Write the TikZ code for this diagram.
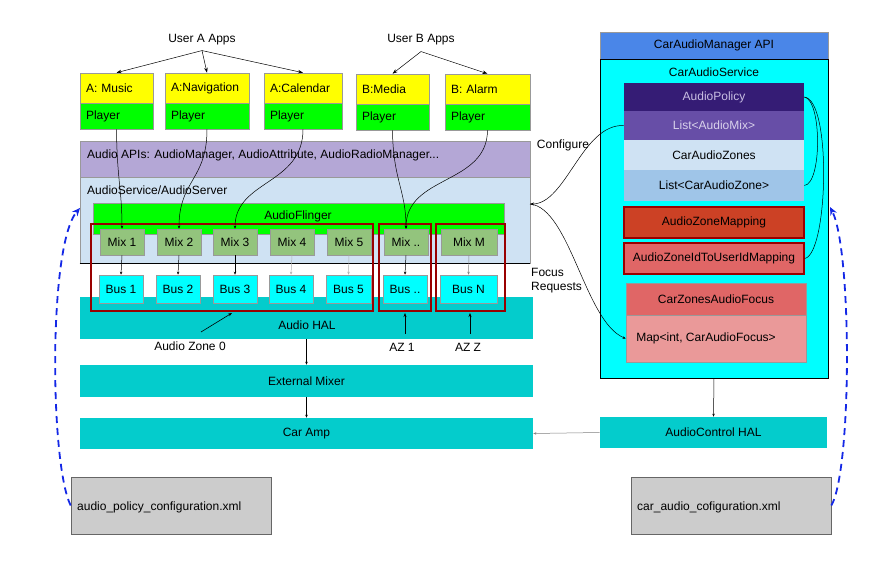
\documentclass[tikz,border=0pt]{standalone}
\usepackage{fontspec}
\setmainfont{Liberation Sans}
\usetikzlibrary{arrows.meta}
\definecolor{boxgray}{HTML}{999999}
\definecolor{ylw}{HTML}{FFFF00}
\definecolor{grn}{HTML}{00FF00}
\definecolor{apipurple}{HTML}{B4A7D6}
\definecolor{svcblue}{HTML}{CFE2F3}
\definecolor{mixgreen}{HTML}{93C47D}
\definecolor{buscyan}{HTML}{00FFFF}
\definecolor{teal}{HTML}{04CCCC}
\definecolor{zonered}{HTML}{990000}
\definecolor{apiblue}{HTML}{4A86E8}
\definecolor{dpurple}{HTML}{351C75}
\definecolor{mpurple}{HTML}{674EA7}
\definecolor{lpurple}{HTML}{C9BFE3}
\definecolor{lblue}{HTML}{9FC5E8}
\definecolor{brick}{HTML}{CC4125}
\definecolor{salmon}{HTML}{E06666}
\definecolor{pink}{HTML}{EA9999}
\definecolor{xmlgray}{HTML}{CCCCCC}
\definecolor{dashblue}{RGB}{20,40,230}
\begin{document}
\begin{tikzpicture}[x=1pt,y=-1pt,
  fnt/.style={font=\fontsize{12}{14}\selectfont},
  txt/.style={fnt, inner sep=0pt},
  box/.style={fnt, draw=boxgray, line width=0.6pt, inner sep=0pt},
  appbox/.style={box, inner xsep=6pt, align=left},
  zonebox/.style={draw=zonered, line width=2.5pt, inner sep=0pt},
  arr/.style={-{Stealth[length=5pt,width=3.5pt]}, line width=0.5pt},
  smallarr/.style={-{Stealth[length=3pt,width=2.5pt]}, line width=0.5pt},
  zonearr/.style={-{Stealth[length=4pt,width=3pt]}, line width=0.6pt},
  conn/.style={line width=0.5pt},
  bluedash/.style={dashblue, line width=1.8pt, dash pattern=on 7pt off 5pt,
    -{Stealth[length=8pt,width=7pt]}}
]
\useasboundingbox (0,0) rectangle (881,561);

% ---------- user app boxes ----------
\node[txt] (userA) at (202,40) {User A Apps};
\node[txt] (userB) at (421,40) {User B Apps};

\node[appbox, fill=ylw, text width=61pt, minimum height=30pt] (musA) at (116.5,88) {A: Music};
\node[appbox, fill=grn, text width=61pt, minimum height=26pt] (musP) at (116.5,116) {Player};
\node[appbox, fill=ylw, text width=72pt, minimum height=30pt] (navA) at (207,88) {A:Navigation};
\node[appbox, fill=grn, text width=72pt, minimum height=26pt] (navP) at (207,116) {Player};
\node[appbox, fill=ylw, text width=66pt, minimum height=30pt] (calA) at (303,88) {A:Calendar};
\node[appbox, fill=grn, text width=66pt, minimum height=26pt] (calP) at (303,116) {Player};
\node[appbox, fill=ylw, text width=61pt, minimum height=30pt] (medA) at (392.5,89) {B:Media};
\node[appbox, fill=grn, text width=61pt, minimum height=26pt] (medP) at (392.5,117) {Player};
\node[appbox, fill=ylw, text width=73pt, minimum height=30pt] (almA) at (487.5,89) {B: Alarm};
\node[appbox, fill=grn, text width=73pt, minimum height=26pt] (almP) at (487.5,117) {Player};

% ---------- Android stack ----------
\node[box, fill=apipurple, minimum width=450pt, minimum height=36pt] (api) at (305,159) {};
\node[txt, anchor=west] (apit) at (87,155) {Audio APIs: AudioManager, AudioAttribute, AudioRadioManager...};
\node[box, fill=svcblue, minimum width=450pt, minimum height=86pt] (svc) at (305,220) {};
\draw[line width=0.8pt] (svc.south west) -- (svc.south east);
\node[txt, anchor=west] (svct) at (87,190) {AudioService/AudioServer};
\node[box, fill=grn, minimum width=411pt, minimum height=31pt] (flinger) at (298.5,218.5) {};
\node[txt] (flingert) at (298,216) {AudioFlinger};

\node[box, fill=teal, draw=none, minimum width=453pt, minimum height=42pt] (hal) at (306.5,318) {};
\node[txt] (halt) at (307,325) {Audio HAL};
\node[box, fill=teal, draw=none, minimum width=453pt, minimum height=32pt] (ext) at (306.5,381) {External Mixer};
\node[box, fill=teal, draw=none, minimum width=453pt, minimum height=31pt] (amp) at (306.5,433.5) {Car Amp};

% mixes
\foreach \n/\x/\w/\t in {mix1/122/44/Mix 1, mix2/179/44/Mix 2, mix3/235/44/Mix 3, mix4/292/44/Mix 4, mix5/349/44/Mix 5, mixd/406/44/Mix .., mixm/469/56/Mix M}
  \node[box, fill=mixgreen, minimum width=\w pt, minimum height=26pt] (\n) at (\x,242) {\t};
% buses
\foreach \n/\x/\w/\t in {bus1/121/44/Bus 1, bus2/178/44/Bus 2, bus3/235/44/Bus 3, bus4/291/44/Bus 4, bus5/348.5/45/Bus 5, busd/405/44/Bus .., busm/468.5/57/Bus N}
  \node[box, fill=buscyan, minimum width=\w pt, minimum height=28pt] (\n) at (\x,289) {\t};

% zones
\node[zonebox, minimum width=282pt, minimum height=87pt] (z0) at (232,267.5) {};
\node[zonebox, minimum width=52pt, minimum height=87pt] (z1) at (405,267.5) {};
\node[zonebox, minimum width=69pt, minimum height=87pt] (zz) at (470.5,267.5) {};

% mix -> bus
\foreach \m/\b/\c in {mix1/bus1/black, mix2/bus2/black, mix3/bus3/black, mix4/bus4/gray!60, mix5/bus5/gray!60, mixd/busd/black, mixm/busm/gray}
  \draw[smallarr, \c] (\m.south) -- (\b.north);

% zone labels
\node[txt] (az0) at (190,346) {Audio Zone 0};
\node[txt] (az1) at (402,347) {AZ 1};
\node[txt] (azz) at (468,347) {AZ Z};
\coordinate (az0tail) at (201,332);
\coordinate (az0tip) at (232,313);
\coordinate (az1tail) at (405,334);
\coordinate (az1tip) at (405,313);
\coordinate (azztail) at (470,334);
\coordinate (azztip) at (470,313);
\draw[zonearr] (az0tail) -- (az0tip);
\draw[zonearr] (az1tail) -- (az1tip);
\draw[zonearr] (azztail) -- (azztip);

\draw[smallarr] (hal.south) -- (ext.north);
\draw[smallarr] (ext.south) -- (amp.north);

% user -> apps
\draw[arr] (userA.south) ++(0,5) coordinate (uA) -- (musA.north);
\draw[arr] (uA) -- (navA.north);
\draw[arr] (uA) -- (calA.north);
\draw[arr] (userB.south) ++(0,6) coordinate (uB) -- (medA.north);
\draw[arr] (uB) -- (almA.north);

% players -> mixes
\draw[smallarr] (musP.south) .. controls (117,180) and (122,190) .. (mix1.north);
\draw[smallarr] (navP.south) .. controls (207,180) and (179,180) .. (mix2.north);
\draw[smallarr] (calP.south) .. controls (303,185) and (235,180) .. (mix3.north);
\draw[smallarr] (medP.south) .. controls (393,180) and (406,190) .. (mixd.north);
\draw[smallarr] (almP.south) .. controls (487,185) and (406,175) .. (mixd.north);

% ---------- Car audio service ----------
\node[box, fill=apiblue, minimum width=228pt, minimum height=27pt] (cam) at (714,45.5) {CarAudioManager API};
\node[box, fill=buscyan, draw=black, minimum width=228pt, minimum height=319pt] (cas) at (714,218.5) {};
\node[txt] (cast) at (714,72) {CarAudioService};
\node[box, draw=none, fill=dpurple, text=lpurple, minimum width=180pt, minimum height=28pt] (ap) at (714,97) {AudioPolicy};
\node[box, draw=none, fill=mpurple, text=lpurple!70!white, minimum width=180pt, minimum height=29pt] (lam) at (714,125.5) {List<AudioMix>};
\node[box, draw=none, fill=svcblue, minimum width=180pt, minimum height=30pt] (caz) at (714,155) {CarAudioZones};
\node[box, draw=none, fill=lblue, minimum width=180pt, minimum height=31pt] (lcaz) at (714,185.5) {List<CarAudioZone>};
\node[box, draw=zonered, line width=1.5pt, fill=brick, minimum width=180pt, minimum height=31pt] (azm) at (714,222.5) {AudioZoneMapping};
\node[box, draw=zonered, line width=1.5pt, fill=salmon, minimum width=180pt, minimum height=31pt] (azu) at (714,258.5) {AudioZoneIdToUserIdMapping};
\node[box, fill=salmon, minimum width=180pt, minimum height=32pt] (czf) at (716,299) {CarZonesAudioFocus};
\node[box, fill=pink, minimum width=180pt, minimum height=47pt] (map) at (716,338.5) {};
\node[txt] (mapt) at (706,338) {Map<int, CarAudioFocus>};
\node[box, fill=teal, draw=none, minimum width=227pt, minimum height=31pt] (ach) at (713.5,432.5) {AudioControl HAL};

\draw[conn] (ap.east) .. controls (822,100) and (822,184) .. (lcaz.east);
\draw[conn] (ap.east) .. controls (832,100) and (828,254) .. (azu.east);

\draw[smallarr] (cas.south) -- (ach.north);
\draw[smallarr, gray] (ach.west) -- (amp.east);

% configure / focus
\coordinate (svcR) at (530,204);
\node[txt] (conf) at (563,145) {Configure};
\node[txt, anchor=west, align=left] (focus) at (531,281) {Focus\\Requests};
\draw[{Stealth[length=4pt,width=3pt]}-, line width=0.5pt] (svcR) .. controls (566,204) and (582,124) .. (lam.west);
\draw[smallarr] (svcR) .. controls (570,208) and (585,322) .. (map.west);

% ---------- xml files ----------
\node[box, draw=gray!80!black, fill=xmlgray, minimum width=200pt, minimum height=57pt] (xml1) at (171,505.5) {};
\node[txt, anchor=west] (xml1t) at (77,507) {audio\_policy\_configuration.xml};
\node[box, draw=gray!80!black, fill=xmlgray, minimum width=200pt, minimum height=57pt] (xml2) at (731,505.5) {};
\node[txt, anchor=west] (xml2t) at (637,507) {car\_audio\_cofiguration.xml};

\coordinate (svcL) at (80,208);
\coordinate (casR) at (830,207);
\draw[bluedash] (xml1.west) .. controls (50,465) and (48,245) .. (svcL);
\draw[bluedash] (xml2.east) .. controls (852,470) and (852,250) .. (casR);
\end{tikzpicture}
\end{document}
